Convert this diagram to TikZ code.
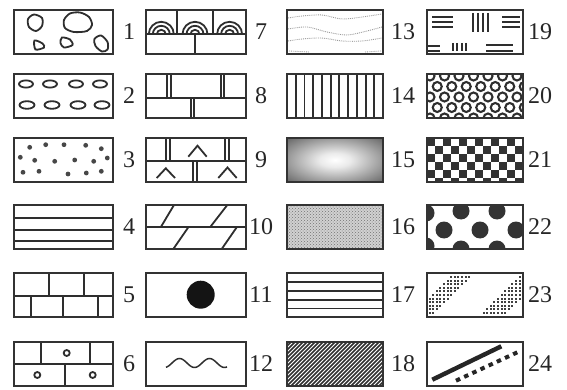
\documentclass[tikz,border=0pt]{standalone}
\usepackage{fontspec}
\setmainfont{Liberation Serif}
\usetikzlibrary{patterns}
\colorlet{glowmid}{black!50}
\colorlet{glowlow}{black!8}
\colorlet{glowrim}{black!85}
\pgfdeclareradialshading{glow}{\pgfpoint{0bp}{0bp}}{color(0bp)=(white); color(8bp)=(glowlow); color(30bp)=(glowmid); color(48bp)=(glowrim); color(70bp)=(glowrim)}

\begin{document}
\begin{tikzpicture}[x=1pt,y=-1pt,
  slot/.style={minimum height=44pt,inner sep=0pt,outer sep=0pt,anchor=north west},
  frame/.style={draw=black!80,line width=2.4pt},
  ink/.style={draw=black!82,line width=1.8pt},
  num/.style={font=\fontsize{24}{24}\selectfont,text=black!85,inner sep=0pt}]
  \useasboundingbox (0,0) rectangle (567,390);
  \foreach \x/\w/\lx [count=\c from 0] in {14/99/129,146/100/261,287/96/403,427/96/540}
    \foreach \y [count=\r] in {10,74,138,205,273,342} {
      \pgfmathtruncatemacro\idx{6*\c+\r}
      \node[slot,minimum width=\w pt] (p\idx) at (\x,\y) {};
      \node[num] (l\idx) at (\lx,{\y+22}) {\idx};
    }
  % pebbles
  \begin{scope}[shift={(p1.north west)}]
    \draw[ink] plot[smooth cycle] coordinates {(14,9) (20,4.5) (28,8) (28,16) (22,21) (15,17)};
    \draw[ink] plot[smooth cycle] coordinates {(50,10) (56,3.5) (66,2.5) (75,7) (78,15) (73,21) (60,22) (51,18)};
    \draw[ink] plot[smooth cycle] coordinates {(20.5,30.5) (28.5,33.5) (30,37.5) (21.5,39.5)};
    \draw[ink] plot[smooth cycle] coordinates {(48,27.5) (56,29.5) (58.5,35) (50,37.5) (46.5,33)};
    \draw[ink] plot[smooth cycle] coordinates {(80.5,29) (87,25.5) (93.5,32) (93.5,39.5) (88,41.5) (81.5,36)};
  \end{scope}
  \begin{scope}[shift={(p2.north west)}]
    \foreach \x in {12,36,62,86} \draw[ink] (\x,10) ellipse [x radius=7pt,y radius=3.6pt];
    \foreach \x in {13,38,64,88} \draw[ink] (\x,31) ellipse [x radius=7.5pt,y radius=3.8pt];
  \end{scope}
  \begin{scope}[shift={(p3.north west)}]
    \foreach \p in {(15.7,9.3),(31.7,6.7),(50,6.7),(71.7,7.3),(87.3,10.7),
      (6.3,19.3),(20.7,22.3),(40.7,23.3),(60.7,22),(79.7,23.3),(93.3,20),
      (9,34.3),(25,33.3),(54,36),(72.3,35),(87.3,33.3)}
      \fill[black!72] \p circle (2.4pt);
  \end{scope}
  \begin{scope}[shift={(p4.north west)}]
    \foreach \y in {13,25,36} \draw[ink] (0,\y) -- (99,\y);
  \end{scope}
  % bricks
  \begin{scope}[shift={(p5.north west)}]
    \draw[ink] (0,23) -- (99,23);
    \foreach \x in {35,70} \draw[ink] (\x,0) -- (\x,23);
    \foreach \x in {17,49,84} \draw[ink] (\x,23) -- (\x,44);
  \end{scope}
  \begin{scope}[shift={(p6.north west)}]
    \draw[ink] (0,22) -- (99,22);
    \foreach \x in {27,76} \draw[ink] (\x,0) -- (\x,22);
    \draw[ink] (51,22) -- (51,44);
    \foreach \p in {(52.7,11),(23.3,33),(78.7,33)} \draw[ink] \p circle (3pt);
  \end{scope}
  \begin{scope}[shift={(p7.north west)}]
    \draw[ink] (0,24.3) -- (100,24.3);
    \foreach \x in {30.7,67.3} \draw[ink] (\x,0) -- (\x,24.3);
    \draw[ink] (49,24.3) -- (49,44);
    \foreach \cx in {15.3,49,83.6}
      \foreach \rr in {4.5,8.5,12.5}
        \draw[ink] (\cx-\rr,24.3) arc[start angle=180,end angle=0,radius=\rr pt];
  \end{scope}
  \begin{scope}[shift={(p8.north west)}]
    \draw[ink] (0,24.3) -- (100,24.3);
    \foreach \x in {21.3,24.7,75,78.3} \draw[ink] (\x,0) -- (\x,24.3);
    \foreach \x in {45,48.3} \draw[ink] (\x,24.3) -- (\x,44);
  \end{scope}
  \begin{scope}[shift={(p9.north west)}]
    \draw[ink] (0,22.7) -- (100,22.7);
    \foreach \x in {20,24,79,83.3} \draw[ink] (\x,0) -- (\x,22.7);
    \foreach \x in {47.3,51.3} \draw[ink] (\x,22.7) -- (\x,44);
    \draw[ink] (42.3,18.7) -- (51.5,7.7) -- (60.7,18.7);
    \draw[ink] (10.7,40) -- (19.8,30.3) -- (29,40);
    \draw[ink] (72.3,40) -- (81.5,29.5) -- (90.7,40);
  \end{scope}
  \begin{scope}[shift={(p10.north west)}]
    \draw[ink] (0,22.3) -- (100,22.3);
    \draw[ink] (14.7,22.3) -- (28,0);
    \draw[ink] (64,22.3) -- (81.3,0);
    \draw[ink] (27.3,44) -- (42.3,22.3);
    \draw[ink] (75.7,44) -- (90.7,22.3);
  \end{scope}
  \begin{scope}[shift={(p11.north west)}]
    \fill[black!92] (54.7,21.7) circle (14pt);
  \end{scope}
  \begin{scope}[shift={(p12.north west)}]
    \draw[ink,line width=1.5pt] plot[domain=20:81,samples=60,smooth] (\x,{21-4.5*sin((\x-26)*12)});
  \end{scope}
  % textures
  \begin{scope}[shift={(p13.north west)},densely dotted,draw=black!40,line width=0.9pt]
    \draw plot[smooth] coordinates {(1,8) (15,6) (35,5) (55,9) (75,7) (95,4)};
    \draw plot[smooth] coordinates {(1,19) (20,17) (40,22) (60,25) (80,21) (95,17)};
    \draw plot[smooth] coordinates {(1,31) (15,29) (35,28) (55,31) (75,31) (95,28)};
    \draw (2,41) -- (22,42);
    \draw (78,42) -- (94,41);
  \end{scope}
  \begin{scope}[shift={(p14.north west)}]
    \foreach \i in {1,...,10} \draw[ink,line width=1.9pt] (\i*8.73,0) -- (\i*8.73,44);
  \end{scope}
  \shade[shading=glow] (p15.north west) rectangle (p15.south east);
  \fill[black!18] (p16.north west) rectangle (p16.south east);
  \fill[pattern=crosshatch dots,pattern color=black!55] (p16.north west) rectangle (p16.south east);
  \begin{scope}[shift={(p17.north west)}]
    \foreach \i in {1,...,4} \draw[ink] (0,\i*8.87) -- (96,\i*8.87);
  \end{scope}
  \begin{scope}[shift={(p18.north west)}]
    \clip (0,0) rectangle (96,44);
    \foreach \t in {-44,-40,...,96} \draw[ink,line width=1.6pt] (\t,44) -- (\t+44,0);
  \end{scope}
  \begin{scope}[shift={(p19.north west)}]
    \foreach \y in {6.7,11.7,16.7} {
      \draw[ink] (5.3,\y) -- (26,\y);
      \draw[ink] (75,\y) -- (93,\y);
    }
    \foreach \x in {46,51,56,61} \draw[ink] (\x,3) -- (\x,22.3);
    \foreach \y in {35.7,40.7} \draw[ink] (1,\y) -- (12.7,\y);
    \foreach \x in {26,30.3,35,39.3} \draw[ink] (\x,33) -- (\x,41.3);
    \foreach \y in {34.7,40.7} \draw[ink] (59,\y) -- (86,\y);
  \end{scope}
  \begin{scope}[shift={(p20.north west)}]
    \clip (0,0) rectangle (96,44);
    \foreach \j in {0,...,4}
      \foreach \i in {0,...,7} {
        \pgfmathsetmacro\cx{14.5*\i+7.25*mod(\j,2)+3}
        \draw[ink,line width=2.1pt] (\cx,10.5*\j+2) circle (4.5pt);
      }
  \end{scope}
  \begin{scope}[shift={(p21.north west)}]
    \clip (0,0) rectangle (96,44);
    \foreach \i in {0,...,11}
      \foreach \j in {0,...,5} {
        \ifodd\numexpr\i+\j\relax\else
          \fill[black!80] (8*\i,8*\j) rectangle ++(8,8);
        \fi
      }
  \end{scope}
  \begin{scope}[shift={(p22.north west)}]
    \clip (0,0) rectangle (96,44);
    \foreach \p in {(-1,8),(34,6),(70,6),(17,25),(53,25),(89,25),(-1,41),(34,44),(70,44)}
      \fill[black!80] \p circle (8.5pt);
  \end{scope}
  \begin{scope}[shift={(p23.north west)}]
    \foreach \i in {0,...,25}
      \foreach \j in {0,...,10} {
        \pgfmathtruncatemacro\s{3.6*\i+3.6*\j+7}
        \ifnum\s>26 \ifnum\s<49
          \fill[black!75] (3.6*\i+1.5,3.6*\j+3) rectangle ++(2,2);
        \fi\fi
        \ifnum\s>95 \ifnum\s<120
          \fill[black!75] (3.6*\i+1.5,3.6*\j+3) rectangle ++(2,2);
        \fi\fi
      }
  \end{scope}
  \begin{scope}[shift={(p24.north west)}]
    \draw[black!85,line width=4.4pt] (5.3,37.7) -- (74.3,4.3);
    \draw[black!85,line width=4pt,dash pattern=on 4.5pt off 4.5pt] (29,38.7) -- (91,10);
  \end{scope}
  \foreach \i in {1,...,24} \draw[frame] (p\i.north west) rectangle (p\i.south east);
\end{tikzpicture}
\end{document}
